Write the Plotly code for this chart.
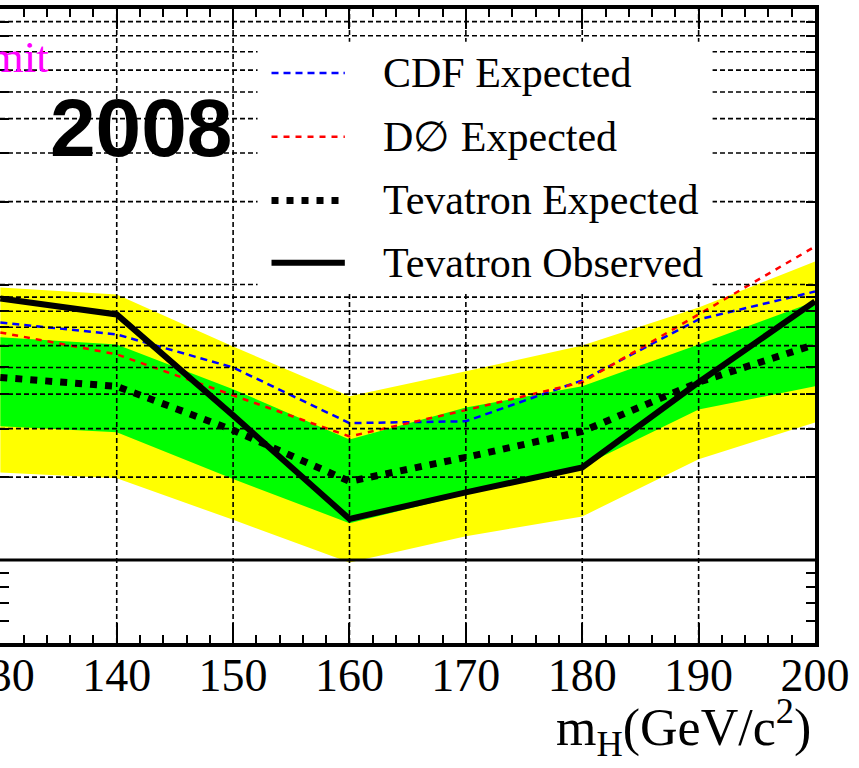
import numpy as np
import plotly.graph_objects as go

# Higgs mass points (GeV/c^2)
mass = [130, 140, 150, 160, 170, 180, 190, 200]

# 95% CL limits relative to the SM cross section
observed = [8.90, 7.79, 3.35, 1.41, 1.76, 2.17, 4.42, 8.68]
expected = [4.60, 4.27, 2.96, 1.93, 2.36, 2.93, 4.42, 6.06]
cdf_expected = [7.28, 6.59, 5.00, 3.14, 3.19, 4.49, 7.47, 9.43]
d0_expected = [6.70, 5.58, 3.96, 2.81, 3.50, 4.42, 7.79, 13.73]

# expected-limit bands
sigma1_hi = [6.43, 6.06, 4.17, 2.74, 3.58, 4.27, 6.06, 8.68]
sigma1_lo = [3.06, 2.91, 1.97, 1.36, 1.73, 2.19, 3.52, 4.27]
sigma2_hi = [9.75, 9.20, 5.96, 3.93, 4.84, 6.01, 8.25, 12.12]
sigma2_lo = [2.08, 1.98, 1.40, 0.98, 1.22, 1.44, 2.32, 3.16]

x_ticks = [130, 140, 150, 160, 170, 180, 190, 200]
y_grid = [2, 3, 4, 5, 6, 7, 8, 9, 10, 20, 30, 40, 50, 60, 70, 80, 90]
y_ticks = [0.6, 0.7, 0.8, 0.9, 1, 2, 3, 4, 5, 6, 7, 8, 9,
           10, 20, 30, 40, 50, 60, 70, 80, 90]

legend_entries = ["CDF Expected", "D\u2205 Expected",
                  "Tevatron Expected", "Tevatron Observed"]

X_RANGE = [129.97, 200]
Y_LOG = [np.log10(0.5), 2.0]

SERIF = "Liberation Serif"


def ypaper(v):
    return (np.log10(v) - Y_LOG[0]) / (Y_LOG[1] - Y_LOG[0])


fig = go.Figure()

# +-2 sigma band
fig.add_trace(go.Scatter(x=mass, y=sigma2_lo, mode="lines",
                         line=dict(width=0, color="#ffff00"),
                         showlegend=False, hoverinfo="skip"))
fig.add_trace(go.Scatter(x=mass, y=sigma2_hi, mode="lines",
                         line=dict(width=0, color="#ffff00"),
                         fill="tonexty", fillcolor="#ffff00",
                         showlegend=False, hoverinfo="skip"))
# +-1 sigma band
fig.add_trace(go.Scatter(x=mass, y=sigma1_lo, mode="lines",
                         line=dict(width=0, color="#00ff00"),
                         showlegend=False, hoverinfo="skip"))
fig.add_trace(go.Scatter(x=mass, y=sigma1_hi, mode="lines",
                         line=dict(width=0, color="#00ff00"),
                         fill="tonexty", fillcolor="#00ff00",
                         showlegend=False, hoverinfo="skip"))

styles = {
    "cdf": dict(color="#0000ff", width=2.5, dash="7px,5px"),
    "d0": dict(color="#ff0000", width=2.5, dash="6px,6px"),
    "exp": dict(color="#000000", width=7, dash="7px,8px"),
    "obs": dict(color="#000000", width=6),
}

fig.add_trace(go.Scatter(x=mass, y=cdf_expected, mode="lines",
                         line=styles["cdf"], name=legend_entries[0], showlegend=False))
fig.add_trace(go.Scatter(x=mass, y=d0_expected, mode="lines",
                         line=styles["d0"], name=legend_entries[1], showlegend=False))
fig.add_trace(go.Scatter(x=mass, y=expected, mode="lines",
                         line=styles["exp"], name=legend_entries[2], showlegend=False))
fig.add_trace(go.Scatter(x=mass, y=observed, mode="lines",
                         line=styles["obs"], name=legend_entries[3], showlegend=False))

shapes = []
grid_line = dict(color="#000000", width=1.6, dash="5px,3px")

# dashed grid drawn over the bands
for xv in [140, 150, 160, 170, 180, 190]:
    shapes.append(dict(type="line", xref="x", yref="paper", x0=xv, x1=xv,
                       y0=0, y1=1, line=grid_line, layer="above"))
for yv in y_grid:
    shapes.append(dict(type="line", xref="paper", yref="paper", x0=0, x1=1,
                       y0=ypaper(yv), y1=ypaper(yv), line=grid_line, layer="above"))

# SM = 1 reference line
shapes.append(dict(type="line", xref="paper", yref="paper", x0=0, x1=1,
                   y0=ypaper(1), y1=ypaper(1),
                   line=dict(color="#000000", width=3), layer="above"))

# legend panel
shapes.append(dict(type="rect", xref="x", yref="paper", x0=152.1, x1=191.2,
                   y0=ypaper(9.4), y1=ypaper(76), fillcolor="white",
                   line=dict(width=0), layer="above"))

legend_rows = [58.6, 34.4, 20.2, 12.0]
legend_keys = ["cdf", "d0", "exp", "obs"]
annotations = []
for row, key, label in zip(legend_rows, legend_keys, legend_entries):
    shapes.append(dict(type="line", xref="x", yref="paper", x0=153.3, x1=159.6,
                       y0=ypaper(row), y1=ypaper(row), line=styles[key], layer="above"))
    annotations.append(dict(text=label, xref="x", yref="paper", x=162.7, y=ypaper(row),
                            xanchor="left", yanchor="middle", showarrow=False,
                            font=dict(family=SERIF, size=42, color="#000000")))

annotations.append(dict(text="2008", xref="x", yref="paper", x=142.05, y=ypaper(37.1),
                        xanchor="center", yanchor="middle", showarrow=False,
                        font=dict(family="Liberation Sans", size=82, color="#000000",
                                  weight="bold")))
annotations.append(dict(text="95% CL Limit", xref="x", yref="paper", x=134.35,
                        y=ypaper(67), xanchor="right", yanchor="middle", showarrow=False,
                        font=dict(family=SERIF, size=45, color="#ff00ff")))
annotations.append(dict(text="m<sub>H</sub>(GeV/c<sup>2</sup>)", xref="paper", yref="paper",
                        x=0.998, y=-0.1325, xanchor="right", yanchor="middle",
                        showarrow=False,
                        font=dict(family=SERIF, size=52, color="#000000")))

fig.update_layout(
    width=859, height=768,
    margin=dict(l=0, r=44, t=9, b=125, autoexpand=False),
    paper_bgcolor="white", plot_bgcolor="white",
    shapes=shapes, annotations=annotations,
    showlegend=False,
)

fig.update_xaxes(
    range=X_RANGE, tickvals=x_ticks, ticktext=[str(v) for v in x_ticks],
    ticks="inside", ticklen=20, tickwidth=2, tickcolor="black",
    minor=dict(dtick=2, tick0=130, ticks="inside", ticklen=8, tickwidth=2,
               tickcolor="black", showgrid=False),
    showline=True, linewidth=4, linecolor="black", mirror="allticks",
    showgrid=False, zeroline=False, automargin=False,
    tickfont=dict(family=SERIF, size=46, color="#000000"),
    ticklabelstandoff=-11, ticklabeloverflow="allow",
)
fig.update_yaxes(
    type="log", range=Y_LOG, tickvals=y_ticks,
    ticks="inside", ticklen=9, tickwidth=2, tickcolor="black",
    showline=True, linewidth=4, linecolor="black", mirror="allticks",
    showgrid=False, zeroline=False, showticklabels=False, automargin=False,
)

fig.write_html("out.html")
